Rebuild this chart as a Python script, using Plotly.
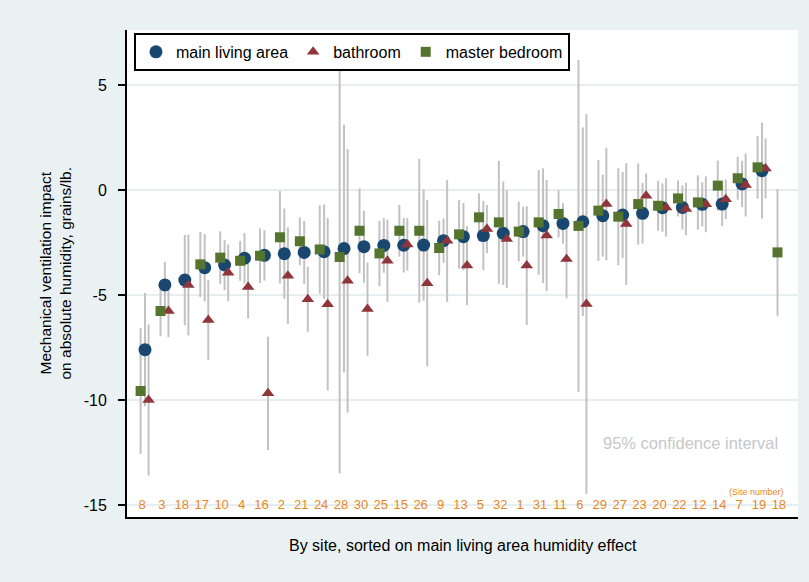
import plotly.graph_objects as go

# Site numbers, in order of the main living area effect
sites = ["8", "3", "18", "17", "10", "4", "16", "2", "21", "24", "28", "30", "25", "15", "26",
         "9", "13", "5", "32", "1", "31", "11", "6", "29", "27", "23", "20", "22", "12", "14",
         "7", "19", "18"]

# Point estimates (grains/lb.)
living = [-7.58, -4.50, -4.27, -3.68, -3.55, -3.23, -3.09, -3.01, -2.95, -2.92, -2.77, -2.68,
          -2.62, -2.61, -2.60, -2.39, -2.20, -2.15, -2.04, -1.96, -1.68, -1.57, -1.49, -1.20,
          -1.17, -1.09, -0.82, -0.81, -0.66, -0.65, 0.31, 0.94, None]
bathroom = [-9.98, -5.74, -4.50, -6.17, -3.92, -4.60, -9.66, -4.06, -5.18, -5.42, -4.30, -5.65,
            -3.35, -2.57, -4.42, -2.40, -3.58, -1.84, -2.31, -3.58, -2.15, -3.27, -5.41, -0.65,
            -1.60, -0.25, -0.81, -0.88, -0.66, -0.42, 0.26, 1.05, None]
bedroom = [-9.55, -5.74, None, -3.52, -3.20, -3.35, -3.11, -2.23, -2.42, -2.81, -3.17, -1.92,
           -3.00, -1.92, -1.92, -2.74, -2.09, -1.28, -1.52, -1.96, -1.52, -1.12, -1.69, -0.96,
           -1.25, -0.65, -0.73, -0.38, -0.57, 0.23, 0.58, 1.10, -2.95]

# Half-widths of the 95% confidence intervals
living_ci = [2.70, 1.10, 2.15, 1.60, 1.20, 1.20, 1.20, 2.15, 1.50, 2.25, 5.90, 1.72, 1.30, 1.30,
             2.65, 1.06, 1.60, 1.65, 2.46, 1.19, 2.73, 0.96, 4.49, 1.95, 2.05, 1.44, 1.15, 1.05,
             1.05, 1.04, 1.10, 2.28, None]
bathroom_ci = [3.60, 1.25, 2.40, 1.90, 1.35, 1.50, 2.70, 2.30, 1.55, 4.10, 6.27, 2.22, 1.96, 1.25,
               3.96, 2.90, 1.88, 1.15, 2.33, 2.83, 2.65, 1.87, 9.05, 2.68, 2.90, 1.06, 1.39, 1.25,
               1.33, 0.94, 1.50, 1.43, None]
bedroom_ci = [3.00, 1.20, None, 1.55, 1.25, 0.95, 1.30, 2.20, 1.14, 2.10, 10.30, 2.02, 1.56, 1.23,
              3.42, 1.30, 1.63, 1.14, 2.93, 1.42, 2.49, 1.13, 7.90, 2.40, 2.31, 1.93, 1.19, 0.86,
              1.29, 1.19, 1.02, 1.49, 3.02]

yticks = [5, 0, -5, -10, -15]

NAVY = "#1a476f"
MAROON = "#90353b"
GREEN = "#55752f"
CI_GRAY = "#c2c2c2"
ORANGE = "#e8861e"
BG = "#eaf1f3"
FONT = "Liberation Sans, Arial, sans-serif"

pos = list(range(len(sites)))
offsets = {"living": 0.15, "bathroom": 0.33, "bedroom": -0.07}

series = [
    ("main living area", living, living_ci, offsets["living"], NAVY, "circle", 13),
    ("bathroom", bathroom, bathroom_ci, offsets["bathroom"], MAROON, "triangle-up", 11),
    ("master bedroom", bedroom, bedroom_ci, offsets["bedroom"], GREEN, "square", 10),
]

fig = go.Figure()

# Confidence-interval spikes first, so all markers sit on top of them
for name, vals, ci, off, color, sym, size in series:
    fig.add_trace(go.Scatter(
        x=[p + off for p in pos], y=vals, mode="markers",
        marker=dict(size=1, color="rgba(0,0,0,0)"),
        error_y=dict(type="data", array=[c if c is not None else 0 for c in ci],
                     visible=True, width=0, color=CI_GRAY, thickness=2),
        showlegend=False, hoverinfo="skip",
    ))

for name, vals, ci, off, color, sym, size in series:
    fig.add_trace(go.Scatter(
        x=[p + off for p in pos], y=vals, mode="markers", name=name,
        marker=dict(size=size, color=color, symbol=sym, line=dict(width=0)),
    ))

# Site numbers along the bottom of the plot region
fig.add_trace(go.Scatter(
    x=pos, y=[yticks[-1]] * len(pos), mode="text", text=sites,
    textfont=dict(family=FONT, size=13, color=ORANGE),
    textposition="middle center", showlegend=False, hoverinfo="skip",
))

fig.update_layout(
    width=809, height=582,
    margin=dict(l=127, r=11, t=30, b=65),
    paper_bgcolor=BG, plot_bgcolor="white",
    font=dict(family=FONT, size=16, color="black"),
    showlegend=True,
    legend=dict(
        orientation="h", x=0.0104, y=0.994, xanchor="left", yanchor="top",
        bgcolor="white", bordercolor="black", borderwidth=2,
        font=dict(family=FONT, size=16, color="black"),
        traceorder="normal",
    ),
    xaxis=dict(
        range=[-0.754, 32.96], showgrid=False, zeroline=False,
        showticklabels=False, ticks="",
        showline=True, linecolor="black", linewidth=2,
    ),
    yaxis=dict(
        range=[-15.55, 7.64], tickvals=yticks, ticktext=[str(v) for v in yticks],
        showgrid=True, gridcolor="#e6eef1", gridwidth=1.5, zeroline=False,
        ticks="outside", ticklen=7, tickwidth=1.5, tickcolor="black",
        ticklabelstandoff=8,
        showline=True, linecolor="black", linewidth=2,
        tickfont=dict(family=FONT, size=16, color="black"),
    ),
    annotations=[
        dict(text="Mechanical ventilation impact<br>on absolute humidity, grains/lb.",
             xref="paper", yref="paper", x=0, y=0.5, xshift=-72,
             xanchor="center", yanchor="middle", textangle=-90, showarrow=False,
             font=dict(family=FONT, size=15.5, color="black")),
        dict(text="By site, sorted on main living area humidity effect",
             xref="paper", yref="paper", x=0.5, y=0, yshift=-28,
             xanchor="center", yanchor="middle", showarrow=False,
             font=dict(family=FONT, size=16, color="black")),
        dict(text="95% confidence interval", xref="paper", yref="paper",
             x=0.84, y=0.152, xanchor="center", yanchor="middle", showarrow=False,
             font=dict(family=FONT, size=16.5, color="#c8c8c8")),
        dict(text="(Site number)", xref="paper", yref="paper",
             x=0.938, y=0.052, xanchor="center", yanchor="middle", showarrow=False,
             font=dict(family=FONT, size=9, color=ORANGE)),
    ],
)

fig.write_html("out.html")
